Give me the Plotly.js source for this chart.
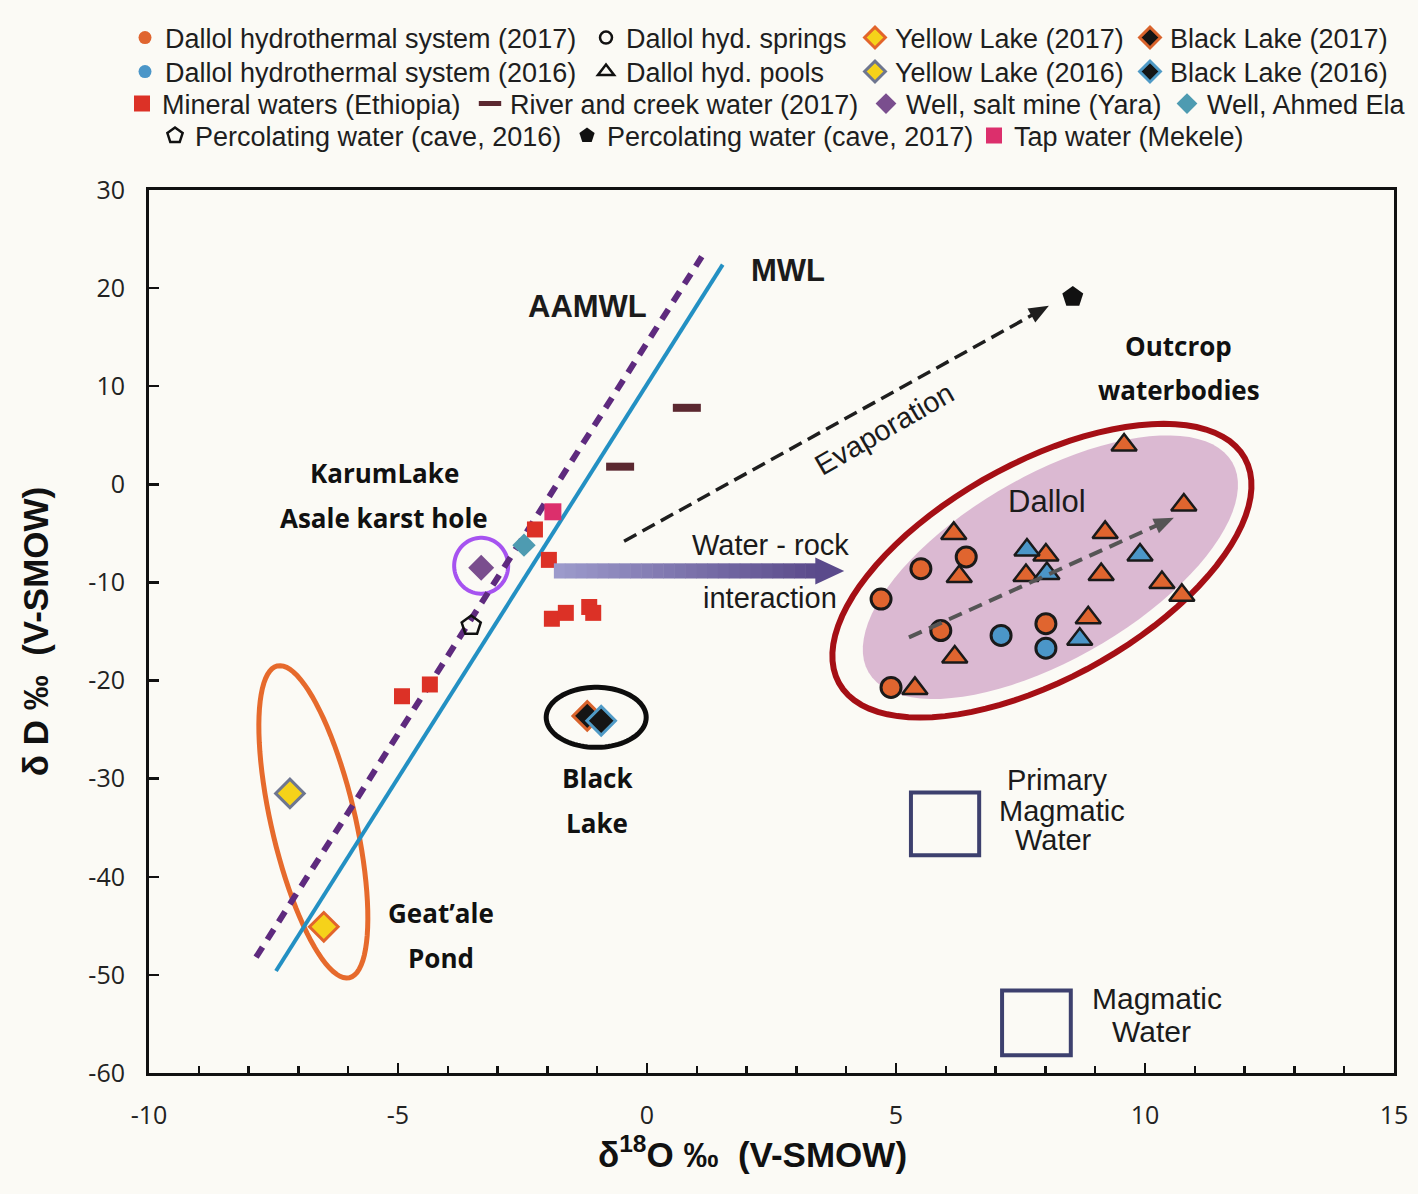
<!DOCTYPE html>
<html><head><meta charset="utf-8">
<script src="https://cdn.plot.ly/plotly-3.0.1.min.js"></script>
<style>html,body{margin:0;padding:0;background:#fbfaf5}</style>
</head><body><div id="chart" style="width:1418px;height:1194px"></div>
<script>
// ---------------- data ----------------
const springs2017X = [5.50, 6.41, 4.70, 5.90, 4.90, 8.01];
const springs2017Y = [-8.6, -7.4, -11.7, -14.9, -20.7, -14.2];
const springs2016X = [7.11, 8.01];
const springs2016Y = [-15.4, -16.7];
const pools2017X = [6.16, 6.27, 8.01, 7.61, 9.20, 9.12, 10.78, 9.58, 10.34, 10.74, 8.86, 6.18, 5.38];
const pools2017Y = [-5.0, -9.4, -7.2, -9.3, -4.9, -9.2, -2.1, 4.0, -10.0, -11.3, -13.6, -17.6, -20.8];
const pools2016X = [7.63, 8.03, 9.90, 8.69];
const pools2016Y = [-6.7, -9.1, -7.2, -15.8];

const yellow2017X = [-6.49]; const yellow2017Y = [-45.1];
const yellow2016X = [-7.17]; const yellow2016Y = [-31.5];
const black2017X = [-1.20];  const black2017Y = [-23.6];
const black2016X = [-0.92];  const black2016Y = [-24.1];

const mineralX = [-2.25, -1.97, -1.91, -1.63, -1.16, -1.08, -4.92, -4.36];
const mineralY = [-4.6, -7.7, -13.7, -13.1, -12.5, -13.1, -21.6, -20.4];
const riverX = [0.80, -0.54];
const riverY = [7.8, 1.8];
const yaraX = [-3.33]; const yaraY = [-8.5];
const ahmedElaX = [-2.47]; const ahmedElaY = [-6.2];
const cave2016X = [-3.53]; const cave2016Y = [-14.4];
const cave2017X = [8.55];  const cave2017Y = [19.1];
const tapX = [-1.89]; const tapY = [-2.8];

const mwlX = [-7.45, 1.52];
const mwlY = [-49.6, 22.4];
const aamwlX = [-7.85, 1.10];
const aamwlY = [-48.2, 23.2];

const primaryMagmaticX = [5.30, 6.67];
const primaryMagmaticY = [-31.4, -37.8];
const magmaticX = [7.13, 8.51];
const magmaticY = [-51.6, -58.2];

const xTickVals = [-10, -5, 0, 5, 10, 15];
const xTickText = ['-10', '-5', '0', '5', '10', '15'];
const yTickVals = [-60, -50, -40, -30, -20, -10, 0, 10, 20, 30];
const yTickText = ['-60', '-50', '-40', '-30', '-20', '-10', '0', '10', '20', '30'];

// ---------------- helpers ----------------
const SX = 1245 / 25, SY = 883 / 90; // px per data unit
function ellPath(cx, cy, aPx, bPx, deg) {
  const th = deg * Math.PI / 180;
  let d = '';
  for (let i = 0; i <= 90; i++) {
    const t = 2 * Math.PI * i / 90;
    const px = aPx * Math.cos(t) * Math.cos(th) - bPx * Math.sin(t) * Math.sin(th);
    const py = aPx * Math.cos(t) * Math.sin(th) + bPx * Math.sin(t) * Math.cos(th);
    d += (i ? 'L' : 'M') + (cx + px / SX).toFixed(4) + ',' + (cy + py / SY).toFixed(4);
  }
  return d + 'Z';
}
// dashed arrow: returns [line shape end point, head path]
function arrowHead(x0, y0, x1, y1, len, half) {
  const dx = (x1 - x0) * SX, dy = (y1 - y0) * SY;
  const L = Math.hypot(dx, dy), ux = dx / L, uy = dy / L, nx = -uy, ny = ux;
  const bx = -len * ux, by = -len * uy;
  const p = (px, py) => (x1 + px / SX).toFixed(4) + ',' + (y1 + py / SY).toFixed(4);
  return {
    path: 'M' + p(0, 0) + 'L' + p(bx + half * nx, by + half * ny) + 'L' + p(bx - half * nx, by - half * ny) + 'Z',
    ex: x1 + (bx * 0.8) / SX, ey: y1 + (by * 0.8) / SY
  };
}
function hexLerp(a, b, t) {
  const pa = [1,3,5].map(i => parseInt(a.substr(i,2),16));
  const pb = [1,3,5].map(i => parseInt(b.substr(i,2),16));
  return 'rgb(' + pa.map((v,k)=>Math.round(v+(pb[k]-v)*t)).join(',') + ')';
}

const ORANGE = '#e0652f', BLUE = '#4b96c8', OUT = '#1a1a1a';
const NUL = [null];

const traces = [
  {x: aamwlX, y: aamwlY, mode: 'lines', showlegend: false,
   line: {color: '#5e2a7e', width: 6, dash: '12px,9px'}},
  {x: mwlX, y: mwlY, mode: 'lines', showlegend: false,
   line: {color: '#2390c3', width: 4}},

  {x: NUL, y: NUL, mode: 'markers', name: 'Dallol hydrothermal system (2017)', legend: 'legend',
   marker: {symbol: 'circle', size: 13, color: ORANGE}},
  {x: NUL, y: NUL, mode: 'markers', name: 'Dallol hyd. springs', legend: 'legend2',
   marker: {symbol: 'circle-open', size: 12, color: '#111', line: {width: 2.5}}},
  {x: yellow2017X, y: yellow2017Y, mode: 'markers', name: 'Yellow Lake (2017)', legend: 'legend3',
   marker: {symbol: 'diamond', size: 22, color: '#f5d21a', line: {color: '#e2642b', width: 3}}},
  {x: black2017X, y: black2017Y, mode: 'markers', name: 'Black Lake (2017)', legend: 'legend4',
   marker: {symbol: 'diamond', size: 22, color: '#151515', line: {color: '#d9632c', width: 3}}},

  {x: NUL, y: NUL, mode: 'markers', name: 'Dallol hydrothermal system (2016)', legend: 'legend5',
   marker: {symbol: 'circle', size: 13, color: BLUE}},
  {x: NUL, y: NUL, mode: 'markers', name: 'Dallol hyd. pools', legend: 'legend6',
   marker: {symbol: 'triangle-up-open', size: 14, color: '#111', line: {width: 2.5}}},
  {x: yellow2016X, y: yellow2016Y, mode: 'markers', name: 'Yellow Lake (2016)', legend: 'legend7',
   marker: {symbol: 'diamond', size: 22, color: '#f5d21a', line: {color: '#6e7690', width: 3}}},
  {x: black2016X, y: black2016Y, mode: 'markers', name: 'Black Lake (2016)', legend: 'legend8',
   marker: {symbol: 'diamond', size: 22, color: '#151515', line: {color: '#4f9ac6', width: 3}}},

  {x: mineralX, y: mineralY, mode: 'markers', name: 'Mineral waters (Ethiopia)', legend: 'legend9',
   marker: {symbol: 'square', size: 16, color: '#dc3126'}},
  {x: riverX, y: riverY, mode: 'markers', name: 'River and creek water (2017)', legend: 'legend10',
   marker: {symbol: 'line-ew', size: 20, color: '#5b2830', line: {color: '#5b2830', width: 8}}},
  {x: yaraX, y: yaraY, mode: 'markers', name: 'Well, salt mine (Yara)', legend: 'legend11',
   marker: {symbol: 'diamond', size: 20, color: '#7a4e8e'}},
  {x: ahmedElaX, y: ahmedElaY, mode: 'markers', name: 'Well, Ahmed Ela', legend: 'legend12',
   marker: {symbol: 'diamond', size: 18, color: '#4e9bb1'}},

  {x: cave2016X, y: cave2016Y, mode: 'markers', name: 'Percolating water (cave, 2016)', legend: 'legend13',
   marker: {symbol: 'pentagon-open', size: 20, color: '#111', line: {width: 2.5}}},
  {x: cave2017X, y: cave2017Y, mode: 'markers', name: 'Percolating water (cave, 2017)', legend: 'legend14',
   marker: {symbol: 'pentagon', size: 22, color: '#111'}},
  {x: tapX, y: tapY, mode: 'markers', name: 'Tap water (Mekele)', legend: 'legend15',
   marker: {symbol: 'square', size: 17, color: '#dc2f6c'}},

  {x: springs2017X, y: springs2017Y, mode: 'markers', showlegend: false,
   marker: {symbol: 'circle', size: 20, color: ORANGE, line: {color: OUT, width: 3}}},
  {x: springs2016X, y: springs2016Y, mode: 'markers', showlegend: false,
   marker: {symbol: 'circle', size: 20, color: BLUE, line: {color: OUT, width: 3}}},
  {x: pools2017X, y: pools2017Y, mode: 'markers', showlegend: false,
   marker: {symbol: 'triangle-up', size: 22, color: ORANGE, line: {color: OUT, width: 2.5}}},
  {x: pools2016X, y: pools2016Y, mode: 'markers', showlegend: false,
   marker: {symbol: 'triangle-up', size: 22, color: BLUE, line: {color: OUT, width: 2.5}}}
];

// ---------------- shapes ----------------
const shapes = [];
shapes.push({type: 'path', xref: 'x', yref: 'y', layer: 'below',
  path: ellPath(8.10, -8.45, 210, 92, 30), fillcolor: '#dbb9d2', line: {width: 0}});
shapes.push({type: 'path', xref: 'x', yref: 'y', layer: 'below',
  path: ellPath(7.93, -8.8, 232, 108, 29), line: {color: '#a50f15', width: 6}});
shapes.push({type: 'path', xref: 'x', yref: 'y', layer: 'below',
  path: ellPath(-6.70, -34.4, 160, 42, 103), line: {color: '#e66a2c', width: 5}});
shapes.push({type: 'path', xref: 'x', yref: 'y', layer: 'below',
  path: ellPath(-3.33, -8.3, 27, 28, 0), line: {color: '#a653f0', width: 4}});
shapes.push({type: 'path', xref: 'x', yref: 'y', layer: 'below',
  path: ellPath(-1.02, -23.75, 50, 30, 0), line: {color: '#0d0d0d', width: 5}});
shapes.push({type: 'rect', xref: 'x', yref: 'y', x0: primaryMagmaticX[0], x1: primaryMagmaticX[1],
  y0: primaryMagmaticY[0], y1: primaryMagmaticY[1], line: {color: '#3d406e', width: 4}});
shapes.push({type: 'rect', xref: 'x', yref: 'y', x0: magmaticX[0], x1: magmaticX[1],
  y0: magmaticY[0], y1: magmaticY[1], line: {color: '#3d406e', width: 4}});
const bodyX0 = -1.87, bodyX1 = 3.40, nSeg = 24;
for (let i = 0; i < nSeg; i++) {
  const xa = bodyX0 + (bodyX1 - bodyX0) * i / nSeg;
  const xb = bodyX0 + (bodyX1 - bodyX0) * (i + 1) / nSeg + 0.01;
  shapes.push({type: 'rect', xref: 'x', yref: 'y', x0: xa, x1: xb, y0: -8.05, y1: -9.6,
    fillcolor: hexLerp('#9c9acb', '#5c4c8c', i / (nSeg - 1)), line: {width: 0}});
}
shapes.push({type: 'path', xref: 'x', yref: 'y',
  path: 'M3.38,-7.45 L3.96,-8.83 L3.38,-10.2 Z', fillcolor: '#5a4a8b', line: {width: 0}});
// evaporation dashed arrow
const evap = arrowHead(-0.46, -5.8, 8.07, 18.2, 20, 8);
shapes.push({type: 'line', xref: 'x', yref: 'y', x0: -0.46, y0: -5.8, x1: evap.ex, y1: evap.ey,
  line: {color: '#1e1e1e', width: 3.5, dash: '14px,7px'}});
shapes.push({type: 'path', xref: 'x', yref: 'y', path: evap.path, fillcolor: '#1e1e1e', line: {width: 0}});
// Dallol trend dashed arrow
const trend = arrowHead(5.26, -15.6, 10.58, -3.4, 20, 8);
shapes.push({type: 'line', xref: 'x', yref: 'y', x0: 5.26, y0: -15.6, x1: trend.ex, y1: trend.ey,
  line: {color: '#555555', width: 4, dash: '14px,8px'}});
shapes.push({type: 'path', xref: 'x', yref: 'y', path: trend.path, fillcolor: '#555555', line: {width: 0}});

// ---------------- annotations ----------------
const boldF = (s) => ({family: 'Open Sans, Noto Sans, sans-serif', size: s, color: '#111', weight: 700});
const armF = (s, w) => ({family: 'Liberation Sans, Arial, sans-serif', size: s, color: '#1b1b1b', weight: w || 400});
const T = (x, y, text, font, extra) => Object.assign({x, y, xref: 'x', yref: 'y', text, showarrow: false, font}, extra || {});
const annotations = [
  T(2.83, 21.8, 'MWL', armF(31, 700)),
  T(-1.2, 18.1, 'AAMWL', armF(31, 700)),
  T(-5.28, 1.2, 'KarumLake', boldF(26)),
  T(-5.28, -3.4, 'Asale karst hole', boldF(26)),
  T(-1.0, -29.9, 'Black', boldF(26)),
  T(-1.0, -34.5, 'Lake', boldF(26)),
  T(-4.14, -43.7, 'Geat’ale', boldF(26)),
  T(-4.14, -48.3, 'Pond', boldF(26)),
  T(10.68, 14.1, 'Outcrop', boldF(26)),
  T(10.68, 9.6, 'waterbodies', boldF(26)),
  T(8.03, -1.7, 'Dallol', armF(31)),
  T(2.47, -6.2, 'Water - rock', armF(29)),
  T(2.47, -11.6, 'interaction', armF(29)),
  T(4.76, 5.6, 'Evaporation', armF(29), {textangle: -30}),
  T(8.23, -30.1, 'Primary', armF(29)),
  T(8.33, -33.3, 'Magmatic', armF(29)),
  T(8.17, -36.3, 'Water', armF(29)),
  T(10.24, -52.4, 'Magmatic', armF(30)),
  T(10.14, -55.8, 'Water', armF(30)),
  {xref: 'paper', yref: 'paper', x: (752 - 149) / 1245, y: -(1152 - 1073) / 883, xanchor: 'center', yanchor: 'middle',
   showarrow: false, text: 'δ<sup>18</sup>O ‰  (V-SMOW)',
   font: {family: 'Liberation Sans, Arial, sans-serif', size: 35, color: '#111', weight: 700}}
];

// ---------------- legends: one per entry for exact placement ----------------
const legFont = {family: 'Liberation Sans, Arial, sans-serif', size: 27, color: '#1e1e1e'};
const legBase = {orientation: 'h', xref: 'container', yref: 'container', xanchor: 'left', yanchor: 'middle',
  font: legFont, bgcolor: 'rgba(0,0,0,0)', borderwidth: 0, itemsizing: 'trace'};
const legendPos = [
  [143, 38], [604, 38], [873, 38], [1148, 38],
  [143, 72], [604, 72], [873, 72], [1148, 72],
  [140, 104], [488, 104], [884, 104], [1185, 104],
  [173, 136], [585, 136], [992, 136]
];

const layout = {
  width: 1418, height: 1194,
  margin: {l: 149, r: 24, t: 190, b: 121},
  paper_bgcolor: '#fbfaf5', plot_bgcolor: '#fbfaf5',
  hovermode: false,
  showlegend: true,
  xaxis: {
    range: [-10, 15], tickvals: xTickVals, ticktext: xTickText, ticks: 'inside', ticklen: 10, tickwidth: 2.5, tickcolor: '#111',
    minor: {dtick: 1, ticks: 'inside', ticklen: 7, tickwidth: 2.5, tickcolor: '#111'},
    showline: true, mirror: true, linecolor: '#111', linewidth: 3, showgrid: false, zeroline: false,
    tickfont: {family: 'Open Sans, sans-serif', size: 25, color: '#222'}, ticklabelstandoff: 18
  },
  yaxis: {
    range: [-60, 30], tickvals: yTickVals, ticktext: yTickText, ticks: 'inside', ticklen: 10, tickwidth: 2.5, tickcolor: '#111',
    showline: true, mirror: true, linecolor: '#111', linewidth: 3, showgrid: false, zeroline: false,
    tickfont: {family: 'Open Sans, sans-serif', size: 25, color: '#222'}, ticklabelstandoff: 16,
    title: {text: 'δ D ‰  (V-SMOW)', standoff: 30,
      font: {family: 'Liberation Sans, Arial, sans-serif', size: 35, color: '#111', weight: 700}}
  },
  shapes, annotations
};
legendPos.forEach((p, i) => {
  const key = i === 0 ? 'legend' : 'legend' + (i + 1);
  layout[key] = Object.assign({}, legBase, {x: (p[0] - 18) / 1418, y: 1 - p[1] / 1194});
});

Plotly.newPlot('chart', traces, layout, {staticPlot: true, displayModeBar: false});
</script></body></html>
